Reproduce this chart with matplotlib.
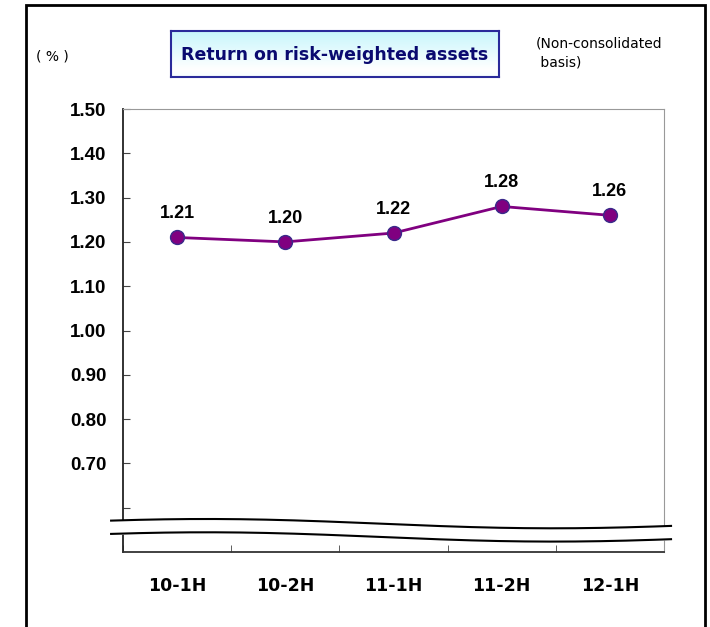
import matplotlib

matplotlib.use("Agg")

import matplotlib.pyplot as plt
import numpy as np
from matplotlib.patches import Rectangle

categories = ["10-1H", "10-2H", "11-1H", "11-2H", "12-1H"]
values = [1.21, 1.20, 1.22, 1.28, 1.26]
tick_values = [0.60, 0.70, 0.80, 0.90, 1.00, 1.10, 1.20, 1.30, 1.40, 1.50]
tick_labels = ["", "0.70", "0.80", "0.90", "1.00", "1.10", "1.20", "1.30", "1.40", "1.50"]

W, H = 710, 627
fig = plt.figure(figsize=(W / 100, H / 100), dpi=100)
fig.patch.set_facecolor("white")

# outer frame (bottom edge runs off the picture)
fig.add_artist(Rectangle((26 / W, -0.02), 679 / W, 1 - 5 / H + 0.02, transform=fig.transFigure,
                         fill=False, edgecolor="black", linewidth=2))

ax = fig.add_axes([123 / W, 1 - 552 / H, 541 / W, 443 / H])
x = np.arange(len(categories))
ax.plot(x, values, color="#800080", linewidth=2, marker="o", markersize=10,
        markerfacecolor="#800080", markeredgecolor="#3a2a8a", markeredgewidth=1, zorder=3)
for xi, v in zip(x, values):
    ax.annotate(f"{v:.2f}", (xi, v), xytext=(0, 11), textcoords="offset points",
                ha="center", va="bottom", fontsize=13, fontweight="bold",
                family="Liberation Sans")

ax.set_xlim(-0.5, len(categories) - 0.5)
ax.set_ylim(0.5, 1.5)
ax.set_yticks(tick_values)
ax.set_yticklabels(tick_labels, fontsize=13.5, fontweight="bold", family="Liberation Sans")
ax.set_xticks(x)
ax.set_xticklabels(categories, fontsize=12.5, fontweight="bold", family="DejaVu Sans")
ax.set_xticks(np.arange(len(categories) + 1) - 0.5, minor=True)
ax.tick_params(axis="x", which="major", length=0, pad=18)
ax.tick_params(axis="x", which="minor", direction="in", length=5, color="#444444")
ax.tick_params(axis="y", direction="in", length=5, pad=12, color="#444444")
for side in ["top", "right"]:
    ax.spines[side].set_color("#999999")
ax.spines["left"].set_linewidth(1.3)
ax.spines["bottom"].set_linewidth(1.3)
ax.spines["left"].set_color("#222222")
ax.spines["bottom"].set_color("#333333")

# axis break squiggle
xs = np.linspace(-0.61, 4.565, 200)
t = (xs - xs[0]) / (xs[-1] - xs[0])
wave = 0.0105 * np.cos(2 * np.pi * (t - 0.17) / 1.24)
y_top = 0.564 + wave
y_bot = 0.534 + wave
ax.fill_between(xs, y_bot, y_top, color="white", zorder=4, clip_on=False)
ax.plot(xs, y_top, color="black", linewidth=1.5, zorder=5, clip_on=False)
ax.plot(xs, y_bot, color="black", linewidth=1.5, zorder=5, clip_on=False)

# title box with a soft cyan gradient
box_ax = fig.add_axes([171 / W, 1 - 77 / H, 328 / W, 46 / H])
grad = np.linspace(0, 1, 64).reshape(-1, 1)
box_ax.imshow(np.abs(grad - 0.85) / 0.85, cmap=matplotlib.colors.LinearSegmentedColormap.from_list(
    "cy", ["#ffffff", "#c8f6fc"]), aspect="auto", extent=(0, 1, 0, 1))
box_ax.set_xticks([])
box_ax.set_yticks([])
for s in box_ax.spines.values():
    s.set_color("#2a2a9a")
    s.set_linewidth(1.5)
box_ax.text(0.5, 0.47, "Return on risk-weighted assets", ha="center", va="center",
            fontsize=12.5, color="#0a0a70", family="DejaVu Sans", fontweight="bold",
            transform=box_ax.transAxes)

fig.text(36 / W, 1 - 57 / H, "( % )", ha="left", va="center", fontsize=10,
         family="DejaVu Sans")
fig.text(536 / W, 1 - 53 / H, "(Non-consolidated\n basis)", ha="left", va="center",
         fontsize=10, family="DejaVu Sans", linespacing=1.45)

fig.savefig("out.png", dpi=100)
